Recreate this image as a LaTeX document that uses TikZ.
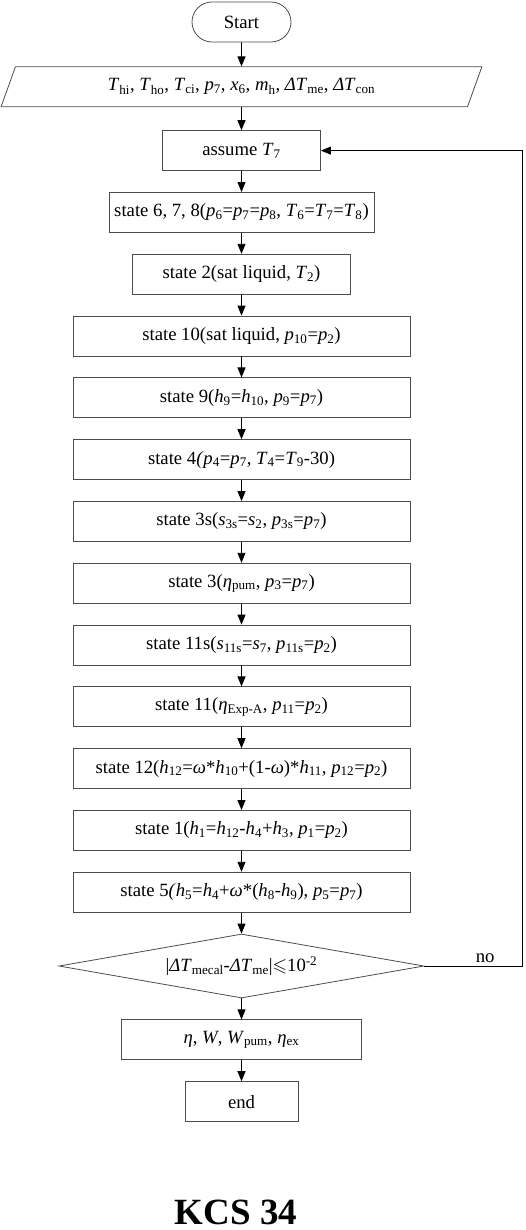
\documentclass[tikz,border=0pt]{standalone}
\usepackage{amsmath,amssymb}
\usepackage{fontspec}
\setmainfont{Liberation Serif}
\usetikzlibrary{arrows.meta,positioning,shapes.geometric}
\newcommand{\vs}[2]{\textit{#1}\textsubscript{#2}}
\tikzset{
    process/.style={draw=black!70,line width=0.8pt,minimum height=40pt,inner sep=2pt,font={\fontsize{18.7}{22}\selectfont}},
    term/.style={process,rounded corners=20pt,minimum width=99pt},
    io/.style={process,trapezium,trapezium left angle=67,trapezium right angle=113,trapezium stretches=true,minimum width=481pt},
    decision/.style={process,diamond,aspect=5.7,minimum width=365pt,minimum height=64pt,inner sep=0pt},
    flow/.style={-{Triangle[length=10pt,width=8pt]},line width=0.9pt}
}
\begin{document}
\begin{tikzpicture}[x=1pt,y=1pt,node distance=21pt]
    \useasboundingbox (0,0) rectangle (526,-1230);
    \node[term] (start) at (241.5,-22) {Start};
    \node[io,below=24pt of start] (input) {\vs{T}{hi}, \vs{T}{ho}, \vs{T}{ci}, \vs{p}{7}, \vs{x}{6}, \vs{m}{h}, \textit{ΔT}\textsubscript{me}, \textit{ΔT}\textsubscript{con}};
    \node[process,below=23pt of input,minimum width=158pt] (assume) {assume \vs{T}{7}};
    \node[process,below=of assume,minimum width=265pt] (s678) {state 6, 7, 8(\vs{p}{6}=\vs{p}{7}=\vs{p}{8}, \vs{T}{6}=\vs{T}{7}=\vs{T}{8})};
    \node[process,below=of s678,minimum width=218pt] (s2) {state 2(sat liquid, \vs{T}{2})};
    \node[process,below=of s2,minimum width=337pt] (s10) {state 10(sat liquid, \vs{p}{10}=\vs{p}{2})};
    \node[process,below=of s10,minimum width=337pt] (s9) {state 9(\vs{h}{9}=\vs{h}{10}, \vs{p}{9}=\vs{p}{7})};
    \node[process,below=of s9,minimum width=337pt] (s4) {state 4\textit{(}\vs{p}{4}=\vs{p}{7}, \vs{T}{4}=\vs{T}{9}-30)};
    \node[process,below=of s4,minimum width=337pt] (s3s) {state 3s(\vs{s}{3s}=\vs{s}{2}, \vs{p}{3s}=\vs{p}{7})};
    \node[process,below=of s3s,minimum width=337pt] (s3) {state 3(\vs{η}{pum}, \vs{p}{3}=\vs{p}{7})};
    \node[process,below=of s3,minimum width=337pt] (s11s) {state 11s(\vs{s}{11s}=\vs{s}{7}, \vs{p}{11s}=\vs{p}{2})};
    \node[process,below=of s11s,minimum width=337pt] (s11) {state 11(\vs{η}{Exp-A}, \vs{p}{11}=\vs{p}{2})};
    \node[process,below=of s11,minimum width=337pt] (s12) {state 12(\vs{h}{12}=\textit{ω}*\vs{h}{10}+(1-\textit{ω})*\vs{h}{11}, \vs{p}{12}=\vs{p}{2})};
    \node[process,below=of s12,minimum width=337pt] (s1) {state 1(\vs{h}{1}=\vs{h}{12}-\vs{h}{4}+\vs{h}{3}, \vs{p}{1}=\vs{p}{2})};
    \node[process,below=of s1,minimum width=337pt] (s5) {state 5\textit{(}\vs{h}{5}=\vs{h}{4}+\textit{ω}*(\vs{h}{8}-\vs{h}{9}), \vs{p}{5}=\vs{p}{7})};
    \node[decision,below=of s5] (check) {|\textit{ΔT}\textsubscript{mecal}-\textit{ΔT}\textsubscript{me}|$\leqslant$10\textsuperscript{-2}};
    \node[process,below=of check,minimum width=240pt] (result) {\textit{η}, \textit{W}, \vs{W}{pum}, \vs{η}{ex}};
    \node[process,below=of result,minimum width=113pt] (stop) {end};
    \node[anchor=base,inner sep=0pt,font={\fontsize{37}{40}\selectfont\bfseries}] (title) at (236,-1224) {KCS 34};
    \draw[flow] (start)--(input);
    \draw[flow] (input)--(assume);
    \draw[flow] (assume)--(s678);
    \draw[flow] (s678)--(s2);
    \draw[flow] (s2)--(s10);
    \draw[flow] (s10)--(s9);
    \draw[flow] (s9)--(s4);
    \draw[flow] (s4)--(s3s);
    \draw[flow] (s3s)--(s3);
    \draw[flow] (s3)--(s11s);
    \draw[flow] (s11s)--(s11);
    \draw[flow] (s11)--(s12);
    \draw[flow] (s12)--(s1);
    \draw[flow] (s1)--(s5);
    \draw[flow] (s5)--(check);
    \draw[flow] (check)--(result);
    \draw[flow] (result)--(stop);
    % loop back when the check fails
    \draw[flow] (check.east) -- node[above,pos=0.62,font={\fontsize{18.7}{22}\selectfont}] {no} ++(98,0) |- (assume.east);
\end{tikzpicture}
\end{document}
